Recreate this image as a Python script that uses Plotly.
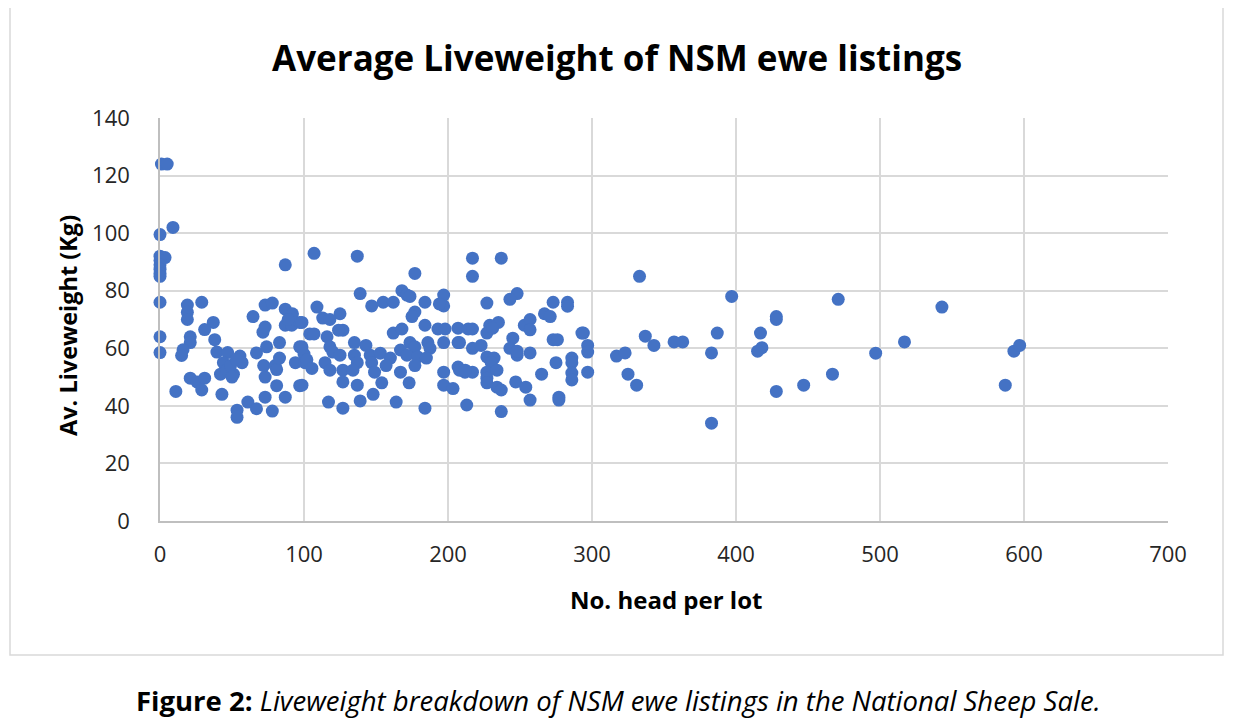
import plotly.graph_objects as go

# Number of head per lot (x) and average liveweight in kg (y)
head_per_lot = [
    1, 5, 9, 0, 0, 3.5, 0, 0, 0, 0, 0, 0, 0, 0,
    19, 19, 19, 29, 21, 21, 16, 15, 37, 31, 38, 39.5, 47, 55.5, 57, 44, 42, 51, 46.5, 49, 53, 50,
    21, 25.7, 31, 29, 11, 43, 53.5, 53.5, 61, 67, 78, 73, 81, 87, 97, 73, 72, 80, 81, 83, 67, 74,
    83, 94, 97, 100.7, 64.6, 73, 78, 71.5, 73, 87, 92, 87, 91.5, 97, 89, 104, 87,
    107, 137, 177, 139, 168, 171.5, 173.6, 197, 197, 194, 147, 155, 162, 184, 177, 175, 109, 125,
    98.6, 113, 118, 107, 116, 127, 124, 184, 162, 168, 193, 198, 207, 214, 197, 207, 135, 143,
    173.6, 177, 186, 187.5, 118, 120, 125, 98.6, 100, 102, 105.5, 114.6, 118, 127, 135, 137, 134,
    146, 153, 160, 167, 171.5, 179, 185, 147, 149, 157, 177, 167, 127, 137, 154, 173, 197, 197,
    203.5, 207, 211.8, 98.6, 117, 127, 139, 148, 164, 184, 213,
    217, 237, 217, 248, 243, 227, 273, 283, 283, 267, 271, 235, 229, 227, 231, 217, 253, 257, 257,
    273, 276, 294, 245, 208, 217, 223, 243, 248, 248, 257, 297, 297, 227, 232, 230, 208, 217, 212,
    227, 234, 227, 227, 234, 237, 247, 254, 257, 265, 275, 286, 286, 286, 286, 297, 277, 277, 237,
    317, 323, 325,
    333, 293, 331, 337, 343, 357, 363, 387, 383, 383, 397, 471, 428, 428, 417, 418, 415, 428, 447,
    467, 497, 517, 543, 587, 593, 597,
]
av_liveweight = [
    124, 124, 102, 99.5, 92, 91.5, 90.5, 89, 87.5, 86, 85, 76, 64, 58.5,
    75, 72.5, 70, 76, 64, 62, 59.5, 57.5, 69, 66.5, 63, 58.7, 58.5, 57.3, 55, 55, 51, 51, 52.5, 54, 56, 50,
    49.6, 48.3, 49.6, 45.5, 45, 44, 38.5, 36, 41.3, 39, 38.2, 43, 47, 43, 47, 50, 54, 54, 52.6, 56.6, 58.4, 60.5,
    62, 55, 60.5, 55, 71, 75, 75.7, 65.6, 67.4, 73.6, 72, 68, 68, 69, 70, 65, 89,
    93, 92, 86, 79, 80, 78.5, 78, 78.5, 74.7, 75.4, 74.7, 76, 76, 76, 72.6, 71, 74.3, 72,
    69, 70.5, 70, 65, 64, 66.3, 66.3, 68, 65.3, 66.7, 66.7, 66.7, 67, 66.7, 62, 62, 62, 61,
    62, 60.5, 62, 60, 60.5, 58.7, 57.6, 60.5, 58, 56, 53, 55, 52.4, 52.4, 57.6, 55, 52.4,
    57.6, 58.3, 56.6, 59.4, 57.6, 57, 56.6, 55, 51.7, 54, 54, 51.7, 48.3, 47.2, 48, 48, 51.7, 47.2,
    46, 53.5, 51.7, 47.2, 41.3, 39.2, 41.7, 44, 41.3, 39.2, 40.3,
    91.3, 91.3, 85, 79, 77, 75.7, 76, 76, 74.6, 72, 71, 69, 68, 65.3, 67, 66.7, 68, 70, 66.4,
    63, 63, 65.3, 63.5, 62, 60, 61, 60, 57.6, 59, 58.4, 61, 58.7, 57, 56.6, 55, 52.4, 51.7, 52.4,
    51.7, 52.4, 49.6, 48, 46.5, 45.5, 48.3, 46.5, 42, 51, 55, 56.6, 55, 51.4, 49, 51.7, 43, 42, 38,
    57.3, 58.4, 51,
    85, 65.3, 47.2, 64.2, 61, 62.2, 62.2, 65.3, 58.4, 34, 78, 77, 71, 70, 65.3, 60.2, 59, 45, 47.2,
    51, 58.3, 62.2, 74.3, 47.2, 59, 61,
]

title_text = "Average Liveweight of NSM ewe listings"
x_title = "No. head per lot"
y_title = "Av. Liveweight (Kg)"
caption = "<b>Figure 2:</b> <i>Liveweight breakdown of NSM ewe listings in the National Sheep Sale.</i>"

FONT = "Open Sans"
OFF = 8  # page body margin
W, H = 1238 - OFF, 723 - OFF
L, R, T, B = 160 - OFF, 1238 - 1168, 118 - OFF, 723 - 521
pw, ph = W - L - R, H - T - B


def px(xpix):
    return (xpix - OFF - L) / pw


def py(ypix):
    return (H - B - (ypix - OFF)) / ph


fig = go.Figure()
fig.add_trace(go.Scatter(
    x=head_per_lot, y=av_liveweight, mode="markers",
    marker=dict(color="#4472C4", size=13, line=dict(width=0)),
    cliponaxis=False, hoverinfo="skip",
))

fig.update_layout(
    width=W, height=H,
    margin=dict(l=L, r=R, t=T, b=B),
    paper_bgcolor="white", plot_bgcolor="white",
    showlegend=False,
    font=dict(family=FONT, color="#404040"),
    xaxis=dict(range=[0, 700], dtick=100, showgrid=True, gridcolor="#D9D9D9", gridwidth=1.5,
               zeroline=False, showline=True, linecolor="#BFBFBF", linewidth=1.5,
               ticks="", tickfont=dict(size=22, color="#262626", family=FONT), ticklabelstandoff=13,
               fixedrange=True),
    yaxis=dict(range=[0, 140], dtick=20, showgrid=True, gridcolor="#D9D9D9", gridwidth=1.5,
               zeroline=False, showline=True, linecolor="#BFBFBF", linewidth=1.5,
               ticks="", tickfont=dict(size=22, color="#262626", family=FONT), ticklabelstandoff=24,
               fixedrange=True),
    shapes=[dict(type="rect", xref="paper", yref="paper",
                 x0=px(10), x1=px(1223), y0=py(655), y1=py(7),
                 line=dict(color="#D9D9D9", width=1.5), fillcolor="rgba(0,0,0,0)", layer="below")],
    annotations=[
        dict(text="<b>" + title_text + "</b>", xref="paper", yref="paper", x=px(617), y=py(58),
             showarrow=False, font=dict(size=35, color="#000000", family=FONT),
             xanchor="center", yanchor="middle"),
        dict(text="<b>" + x_title + "</b>", xref="paper", yref="paper", x=px(666), y=py(599),
             showarrow=False, font=dict(size=24, color="#000000", family=FONT),
             xanchor="center", yanchor="middle"),
        dict(text="<b>" + y_title + "</b>", xref="paper", yref="paper", x=px(68), y=py(326),
             showarrow=False, textangle=-90, font=dict(size=23.5, color="#000000", family=FONT),
             xanchor="center", yanchor="middle"),
        dict(text=caption, xref="paper", yref="paper", x=px(618), y=py(700),
             showarrow=False, font=dict(size=27.5, color="#000000", family=FONT),
             xanchor="center", yanchor="middle"),
    ],
)

fig.write_html("out.html")
